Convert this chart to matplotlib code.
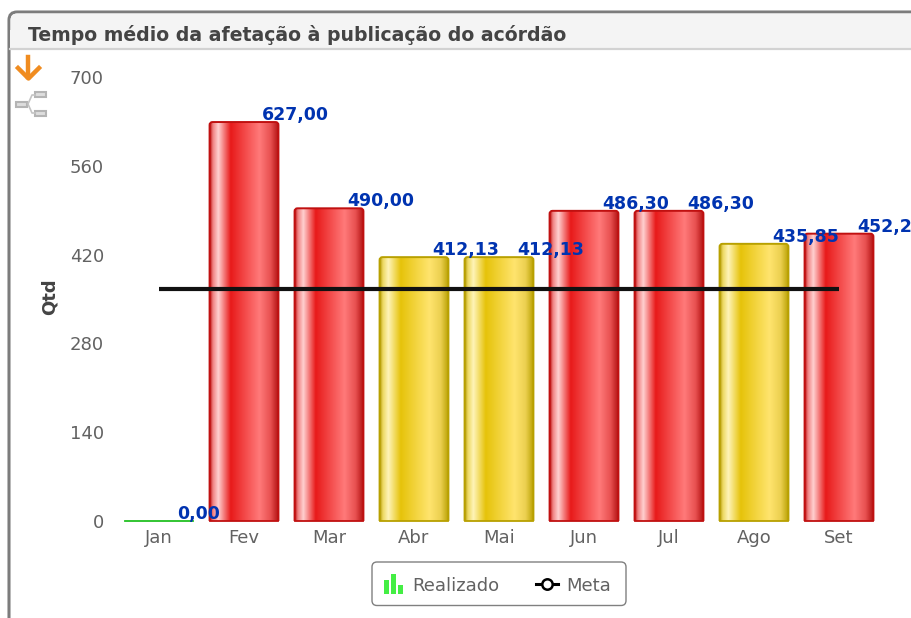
''' Tempo médio da afetação à publicação do acórdão '''
import numpy as np
import matplotlib
matplotlib.use('Agg')
import matplotlib.pyplot as plt
from matplotlib.colors import LinearSegmentedColormap
from matplotlib.patches import FancyBboxPatch, Rectangle

plt.rcParams['font.family'] = ['DejaVu Sans']

months = ['Jan', 'Fev', 'Mar', 'Abr', 'Mai', 'Jun', 'Jul', 'Ago', 'Set']
# heights, the printed labels are kept apart
realizado = [0, 629, 493, 416, 416, 489, 489, 437, 453]
labels = ['0,00', '627,00', '490,00', '412,13', '412,13', '486,30', '486,30', '435,85', '452,2']
status = ['green', 'red', 'red', 'yellow', 'yellow', 'red', 'red', 'yellow', 'red']
meta = [366] * 9
yticks = [0, 140, 280, 420, 560, 700]

W, H = 912, 618
TEXT = '#626262'
BAR_W = 0.81
stops = [0, 0.04, 0.12, 0.3, 0.72, 0.88, 1]
gradients = {
    'red': ['#c01818', '#f08080', '#ffd0d0', '#e81a1a', '#ff7a7a', '#e85050', '#b01010'],
    'yellow': ['#b8a010', '#ecd860', '#fff4b8', '#e6c30a', '#ffe46e', '#ecd050', '#b8a000'],
}
edges = {'red': '#c01010', 'yellow': '#b8a000', 'green': '#22c022'}


def draw_card(fig):
    # pixel coordinates, origin top left
    bg = fig.add_axes([0, 0, 1, 1], zorder=0)
    bg.set_xlim(0, W)
    bg.set_ylim(H, 0)
    bg.axis('off')
    bg.add_patch(FancyBboxPatch((9, 12), 1000, 800, boxstyle='round,pad=0,rounding_size=8',
                                fc='white', ec='#7c7c7c', lw=2.2))
    header = FancyBboxPatch((10.5, 13.5), 1000, 35, boxstyle='round,pad=0,rounding_size=7',
                            fc='#f4f4f4', ec='none')
    bg.add_patch(header)
    bg.add_patch(Rectangle((10.5, 30), 1000, 18.5, fc='#f4f4f4', ec='none'))
    bg.plot([10.5, W], [49, 49], color='#d2d2d2', lw=1.6)
    bg.text(28, 35, 'Tempo médio da afetação à publicação do acórdão', fontsize=13.6,
            fontweight='bold', color='#444444', va='center', ha='left')

    # icons
    bg.plot([28.5, 28.5], [57, 77], color='#f08c20', lw=3.2)
    bg.plot([18, 28.5, 39], [68, 78.5, 68], color='#f08c20', lw=3.2)
    for x, y, w in [(16.5, 102, 11), (35.5, 92, 11), (35.5, 111, 11)]:
        bg.add_patch(Rectangle((x, y), w, 5, fc='#dddddd', ec='#b4b4b4', lw=1.5))
    bg.plot([35, 32, 28, 32, 35], [95, 95, 104, 113, 113], color='#c4c4c4', lw=1.2)

    # legend
    bg.add_patch(FancyBboxPatch((372, 562), 254, 43.5, boxstyle='round,pad=0,rounding_size=5',
                                fc='white', ec='#808080', lw=1))
    for x, top in [(384.5, 580), (391.5, 574), (398.5, 585)]:
        bg.add_patch(Rectangle((x, top), 5, 594 - top, fc='#44ee44', ec='none'))
    bg.text(412, 586, 'Realizado', fontsize=13, color=TEXT, va='center', ha='left')
    bg.plot([536, 558], [584, 584], color='black', lw=2.2)
    bg.plot([547], [584], 'o', ms=7.5, mfc='white', mec='black', mew=1.8)
    bg.text(566, 586, 'Meta', fontsize=13, color=TEXT, va='center', ha='left')


def draw_chart(fig):
    left, right, top, bottom = 116.5, 881.5, 77, 521
    ax = fig.add_axes([left / W, 1 - bottom / H, (right - left) / W, (bottom - top) / H], zorder=1)
    ax.patch.set_alpha(0)
    for spine in ax.spines.values():
        spine.set_visible(False)

    x = np.arange(len(months))
    # y units per x unit on screen, keeps the corners round
    aspect = (700 / (bottom - top)) * ((right - left) / 9)
    for i, (value, kind) in enumerate(zip(realizado, status)):
        x0, x1 = i - BAR_W / 2, i + BAR_W / 2
        if kind in gradients:
            # starts below zero so only the top corners show round
            bar = FancyBboxPatch((x0, -10), BAR_W, value + 10,
                                 boxstyle='round,pad=0,rounding_size=0.035',
                                 mutation_aspect=aspect, fc='none', ec=edges[kind], lw=1.4, zorder=3)
            ax.add_patch(bar)
            cmap = LinearSegmentedColormap.from_list(kind, list(zip(stops, gradients[kind])))
            img = ax.imshow(np.linspace(0, 1, 256).reshape(1, -1), cmap=cmap, aspect='auto',
                            extent=(x0, x1, 0, value), zorder=2)
            img.set_clip_path(bar)
        ax.plot([x0, x1], [0, 0], color=edges[kind], lw=1.3, zorder=3, clip_on=False)

    ax.plot(x, meta, color='#111111', lw=3, solid_capstyle='butt', zorder=4)

    for i, (value, label) in enumerate(zip(realizado, labels)):
        ax.annotate(label, (i, value), xytext=(18, 2), textcoords='offset pixels',
                    fontsize=12.5, fontweight='bold', color='#0033b0', ha='left', va='baseline',
                    zorder=5, annotation_clip=False)

    ax.set_xlim(-0.5, 8.5)
    ax.set_ylim(0, 700)
    ax.set_xticks(x, months)
    ax.set_yticks(yticks)
    ax.tick_params(axis='both', length=0, labelsize=13, labelcolor=TEXT)
    ax.tick_params(axis='x', pad=6)
    ax.tick_params(axis='y', pad=9)
    ax.set_ylabel('Qtd', fontsize=13, fontweight='bold', color='#444444')
    ax.yaxis.set_label_coords((59 - left) / (right - left), 0.505)


def main():
    fig = plt.figure(figsize=(W / 100, H / 100), dpi=100)
    draw_card(fig)
    draw_chart(fig)
    fig.savefig('out.png', dpi=100)


if __name__ == "__main__":
    main()
